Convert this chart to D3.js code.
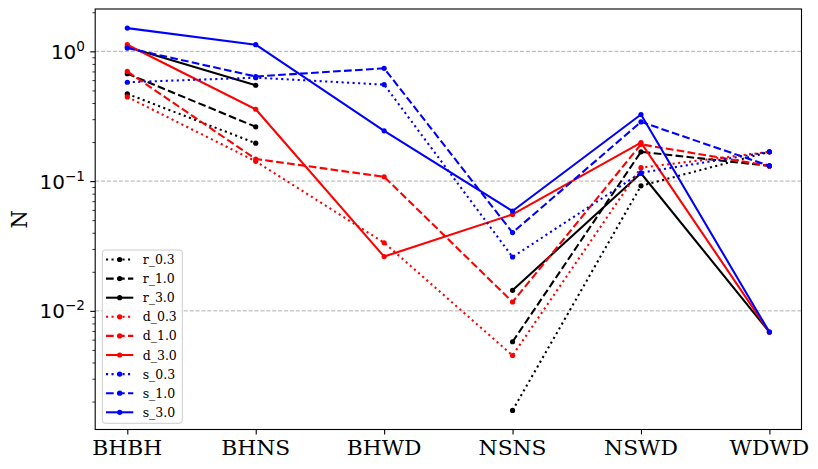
<!DOCTYPE html>
<html>
<head>
<meta charset="utf-8">
<script src="https://cdn.jsdelivr.net/npm/d3@7/dist/d3.min.js"></script>
<style>
  html, body { margin: 0; padding: 0; background: #fff; }
  svg { display: block; font-family: "DejaVu Serif", serif; }
</style>
</head>
<body>
<svg id="chart" width="818" height="469"></svg>
<script>
// ---- data ----
const categories = ["BHBH", "BHNS", "BHWD", "NSNS", "NSWD", "WDWD"];
const r_03 = [0.47, 0.196, null, 0.00171, 0.092, 0.168];
const r_10 = [0.673, 0.262, null, 0.00578, 0.168, 0.131];
const r_30 = [1.08, 0.548, null, 0.0144, 0.115, 0.00686];
const d_03 = [0.445, 0.142, 0.0335, 0.00453, 0.127, 0.168];
const d_10 = [0.70, 0.148, 0.108, 0.0117, 0.192, 0.131];
const d_30 = [1.125, 0.358, 0.0262, 0.0554, 0.198, 0.00686];
const s_03 = [0.578, 0.627, 0.554, 0.026, 0.116, 0.168];
const s_10 = [1.06, 0.64, 0.74, 0.0401, 0.286, 0.131];
const s_30 = [1.51, 1.125, 0.244, 0.0588, 0.326, 0.00686];
const seriesNames = ["r_0.3", "r_1.0", "r_3.0", "d_0.3", "d_1.0", "d_3.0", "s_0.3", "s_1.0", "s_3.0"];
const seriesValues = [r_03, r_10, r_30, d_03, d_10, d_30, s_03, s_10, s_30];
const seriesColors = ["#000000", "#000000", "#000000", "#ff0000", "#ff0000", "#ff0000", "#0000ff", "#0000ff", "#0000ff"];
const seriesStyles = ["dotted", "dashed", "solid", "dotted", "dashed", "solid", "dotted", "dashed", "solid"];
const yTickExps = [-2, -1, 0];

// ---- layout ----
const L = 95.2, R = 801.5, T = 9, B = 429.5;
const svg = d3.select("#chart");
svg.append("rect").attr("width", 818).attr("height", 469).attr("fill", "#fff");

// matplotlib-like autoscale (5% margins)
const allVals = seriesValues.flat().filter(v => v != null);
const lmin = Math.log10(d3.min(allVals)), lmax = Math.log10(d3.max(allVals));
const pad = (lmax - lmin) * 0.05;
const y = d3.scaleLog().domain([Math.pow(10, lmin - pad), Math.pow(10, lmax + pad)]).range([B, T]);
const x = d3.scaleLinear().domain([-0.25, categories.length - 1 + 0.25]).range([L, R]);

// grid
const g = svg.append("g");
yTickExps.forEach(e => {
  const yy = y(Math.pow(10, e));
  g.append("line").attr("x1", L).attr("x2", R).attr("y1", yy).attr("y2", yy)
    .attr("stroke", "#b0b0b0").attr("stroke-width", 1).attr("stroke-dasharray", "4.1,1.8");
});

// y axis ticks (major + minor) via d3 axis
const [dmin, dmax] = y.domain();
const minorVals = [];
for (let e = Math.floor(Math.log10(dmin)); e <= Math.ceil(Math.log10(dmax)); e++) {
  for (let k = 2; k <= 9; k++) {
    const v = k * Math.pow(10, e);
    if (v >= dmin && v <= dmax) minorVals.push(v);
  }
}
const yMinor = d3.axisLeft(y).tickValues(minorVals).tickSize(2.8).tickFormat("");
const yMinorG = svg.append("g").attr("transform", `translate(${L},0)`).call(yMinor);
yMinorG.select(".domain").remove();
yMinorG.selectAll("line").attr("stroke", "#000").attr("stroke-width", 0.8);

const yMajor = d3.axisLeft(y).tickValues(yTickExps.map(e => Math.pow(10, e))).tickSize(4.9).tickFormat("");
const yMajorG = svg.append("g").attr("transform", `translate(${L},0)`).call(yMajor);
yMajorG.select(".domain").remove();
yMajorG.selectAll("line").attr("stroke", "#000").attr("stroke-width", 1.1);

yTickExps.forEach(e => {
  const yy = y(Math.pow(10, e));
  const t = svg.append("text").attr("x", 85).attr("y", yy + 7.5).attr("text-anchor", "end")
    .attr("font-family", "DejaVu Sans, sans-serif")
    .attr("font-size", 20).attr("fill", "#000");
  t.append("tspan").text("10");
  t.append("tspan").attr("dy", -8).attr("font-size", 13.6).text(e < 0 ? "\u2212" + (-e) : String(e));
});

// x axis
const xAxis = d3.axisBottom(x).tickValues(d3.range(categories.length)).tickSize(4.9).tickFormat("");
const xG = svg.append("g").attr("transform", `translate(0,${B})`).call(xAxis);
xG.select(".domain").remove();
xG.selectAll("line").attr("stroke", "#000").attr("stroke-width", 1.1);
categories.forEach((c, i) => {
  const t = svg.append("text").attr("x", x(i)).attr("y", 455).attr("text-anchor", "middle")
    .attr("font-size", 19.6).attr("fill", "#000").text(c);
  const w = t.node().getComputedTextLength();
  t.attr("textLength", w * 1.11).attr("lengthAdjust", "spacingAndGlyphs");
});

// y label
svg.append("text").attr("transform", `translate(26.5,${(T + B) / 2}) scale(1.1,1) rotate(-90)`)
  .attr("text-anchor", "middle").attr("font-size", 21).attr("fill", "#000").text("N");

// lines
const dashFor = s => s === "dashed" ? "7.7,3.3" : (s === "dotted" ? "2.1,3.4" : null);
const line = d3.line().defined(d => d != null).x((d, i) => x(i)).y(d => y(d));
const plot = svg.append("g");
seriesValues.forEach((vals, si) => {
  const gg = plot.append("g");
  gg.append("path").attr("d", line(vals)).attr("fill", "none")
    .attr("stroke", seriesColors[si]).attr("stroke-width", 2.08)
    .attr("stroke-dasharray", dashFor(seriesStyles[si]))
    .attr("stroke-linejoin", "round");
  vals.forEach((v, i) => {
    if (v == null) return;
    gg.append("circle").attr("cx", x(i)).attr("cy", y(v)).attr("r", 2.6).attr("fill", seriesColors[si]);
  });
});

// frame
svg.append("rect").attr("x", L).attr("y", T).attr("width", R - L).attr("height", B - T)
  .attr("fill", "none").attr("stroke", "#000").attr("stroke-width", 1.1);

// legend
const lg = svg.append("g");
lg.append("rect").attr("x", 102.3).attr("y", 250).attr("width", 80).attr("height", 173.3)
  .attr("rx", 3).attr("fill", "#fff").attr("fill-opacity", 0.8)
  .attr("stroke", "#cccccc").attr("stroke-width", 1);
seriesNames.forEach((n, i) => {
  const yy = 259.5 + i * 19.1;
  lg.append("line").attr("x1", 106).attr("x2", 133.3).attr("y1", yy).attr("y2", yy)
    .attr("stroke", seriesColors[i]).attr("stroke-width", 2.08)
    .attr("stroke-dasharray", dashFor(seriesStyles[i]));
  lg.append("circle").attr("cx", 119.7).attr("cy", yy).attr("r", 2.6).attr("fill", seriesColors[i]);
  lg.append("text").attr("x", 142.7).attr("y", yy + 4.5).attr("font-size", 12.5).attr("fill", "#000").text(n);
});
</script>
</body>
</html>
